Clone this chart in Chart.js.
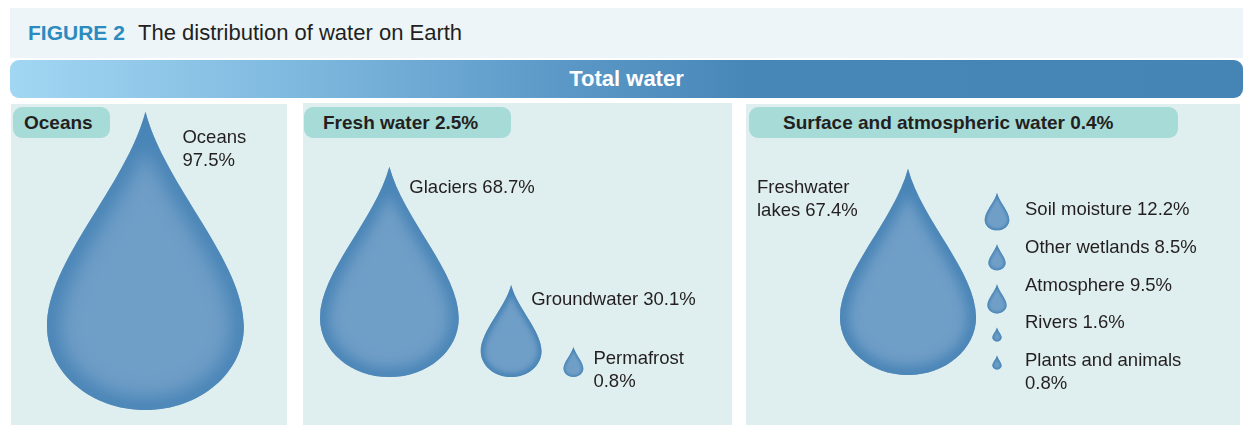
<!DOCTYPE html>
<html>
<head>
<meta charset="utf-8">
<title>The distribution of water on Earth</title>
<script src="https://cdn.jsdelivr.net/npm/chart.js@4.4.0/dist/chart.umd.min.js"></script>
<style>
  body { margin: 0; width: 1250px; height: 436px; background: #fff; position: relative; overflow: hidden;
         font-family: "Liberation Sans", Arial, Helvetica, sans-serif; color: #231f20; }
  .cabecera { position: absolute; left: 10px; top: 8px; width: 1233px; height: 50px; background: #edf5f8; }
  .cabecera span { position: absolute; top: 12px; font-size: 22px; line-height: 26px; }
  .cabecera .fig { left: 18px; font-weight: bold; color: #2b8bbf; font-size: 21px; }
  .cabecera .tit { left: 128px; }
  .total { position: absolute; left: 10px; top: 60px; width: 1233px; height: 38px; border-radius: 9px;
           background: linear-gradient(90deg, #a2d7f3 0%, #7cb6dd 25%, #5b98c7 45%, #4787b7 60%, #4485b5 100%);
           color: #fff; font-weight: bold; font-size: 22px; line-height: 38px; text-align: center; }
  .panel { position: absolute; background: #dfeeee; }
  .pastilla { position: absolute; top: 3px; height: 31px; border-radius: 9px; background: #a7dbd7;
              font-weight: bold; font-size: 19px; line-height: 31px; z-index: 2; box-sizing: border-box; }
  .panel canvas { position: absolute; left: 0; top: 0; }
</style>
</head>
<body>
<div class="cabecera"><span class="fig">FIGURE 2</span><span class="tit">The distribution of water on Earth</span></div>
<div class="total">Total water</div>

<div class="panel" id="p1" style="left:11px; top:104px; width:276px; height:321px;">
  <div class="pastilla" id="t1" style="left:2px; width:97px; padding-left:11px;"></div>
  <canvas id="graficaOceanos"></canvas>
</div>
<div class="panel" id="p2" style="left:303px; top:103px; width:429px; height:322px;">
  <div class="pastilla" id="t2" style="left:1px; top:4px; width:207px; padding-left:19px;"></div>
  <canvas id="graficaDulce"></canvas>
</div>
<div class="panel" id="p3" style="left:746px; top:104px; width:494px; height:321px;">
  <div class="pastilla" id="t3" style="left:3px; width:429px; padding-left:34px;"></div>
  <canvas id="graficaSuperficie"></canvas>
</div>

<script>
// Datos (porcentajes)
const titulosPaneles = ['Oceans', 'Fresh water 2.5%', 'Surface and atmospheric water 0.4%'];

const categoriasOceanos = ['Oceans'];
const valoresOceanos = [97.5];

const categoriasDulce = ['Glaciers', 'Groundwater', 'Permafrost'];
const valoresDulce = [68.7, 30.1, 0.8];

const categoriasSuperficie = ['Freshwater\nlakes', 'Soil moisture', 'Other wetlands', 'Atmosphere', 'Rivers', 'Plants and animals'];
const valoresSuperficie = [67.4, 12.2, 8.5, 9.5, 1.6, 0.8];

// Estilo
const PX_POR_PUNTO = 3.06;   // misma escala vertical en los tres paneles
const PROP_GOTA = 0.66;      // ancho / alto de la gota
const FUENTE_ETIQUETA = '18.5px "Liberation Sans", Arial, sans-serif';
const ALTO_LINEA = 23;

// Dibuja una gota con la punta arriba y la base en (cx, base)
function dibujarGota(ctx, cx, base, h) {
    const rx = h * PROP_GOTA / 2;
    const top = base - h;
    const yAncho = top + 0.72 * h;
    const ry = base - yAncho;
    const k = 0.552;
    ctx.save();
    ctx.beginPath();
    ctx.moveTo(cx, top);
    ctx.bezierCurveTo(cx + 0.2 * rx, top + 0.25 * h, cx + rx, top + 0.5 * h, cx + rx, yAncho);
    ctx.bezierCurveTo(cx + rx, yAncho + k * ry, cx + k * rx, base, cx, base);
    ctx.bezierCurveTo(cx - k * rx, base, cx - rx, yAncho + k * ry, cx - rx, yAncho);
    ctx.bezierCurveTo(cx - rx, top + 0.5 * h, cx - 0.2 * rx, top + 0.25 * h, cx, top);
    ctx.closePath();
    ctx.fillStyle = '#6f9ec7';
    ctx.fill();
    // borde interior más oscuro y difuminado
    ctx.clip();
    ctx.filter = 'blur(' + Math.max(1, rx * 0.09).toFixed(1) + 'px)';
    ctx.lineWidth = Math.max(3, rx * 0.26);
    ctx.strokeStyle = '#4884b6';
    ctx.stroke();
    ctx.restore();
}

function lineasEtiqueta(nombre, valor, valorAparte) {
    const texto = nombre + (valorAparte ? '\n' : ' ') + valor.toFixed(1) + '%';
    return texto.split('\n');
}

function escribir(ctx, lineas, x, y) {
    ctx.save();
    ctx.font = FUENTE_ETIQUETA;
    ctx.fillStyle = '#231f20';
    ctx.textAlign = 'left';
    ctx.textBaseline = 'middle';
    lineas.forEach((l, i) => ctx.fillText(l, x, y + i * ALTO_LINEA));
    ctx.restore();
}

// Plugin que dibuja las gotas usando la escala Y de Chart.js
const pluginGotas = {
    id: 'gotas',
    afterDatasetsDraw(chart, args, opts) {
        const ctx = chart.ctx;
        const area = chart.chartArea;
        const escalaY = chart.scales.y;
        const base = escalaY.getPixelForValue(0);
        const valores = chart.data.datasets[0].data;
        const nombres = chart.data.labels;
        const altoDe = (v, minimo) => base - escalaY.getPixelForValue(Math.max(v, minimo));
        const aparte = opts.valorAparte || [];

        if (opts.modo === 'fila') {
            let x = area.left;
            valores.forEach((v, i) => {
                const h = altoDe(v, opts.minimo);
                const w = h * PROP_GOTA;
                const cx = x + w / 2;
                dibujarGota(ctx, cx, base, h);
                escribir(ctx, lineasEtiqueta(nombres[i], v, aparte.includes(i)), cx + opts.etqDx, base - h + 10 + 0.055 * h);
                x += w + opts.hueco;
            });
        } else {
            // gota grande a la izquierda, resto en columna
            const hG = altoDe(valores[0], 0);
            dibujarGota(ctx, area.left + opts.grandeCx, base, hG);
            escribir(ctx, lineasEtiqueta(nombres[0], valores[0], aparte.includes(0)), area.left + opts.grandeEtqX, base - hG + 19);
            let y = area.top + opts.columnaTop;
            valores.slice(1).forEach((v, k) => {
                const h = altoDe(v, opts.minimo);
                dibujarGota(ctx, area.left + opts.columnaCx, y + h, h);
                y += h + opts.hueco;
                escribir(ctx, lineasEtiqueta(nombres[k + 1], v, aparte.includes(k + 1)),
                    area.left + opts.etqX, area.top + opts.filaTop + k * opts.filaAlto);
            });
        }
    }
};

function crearGrafica(id, categorias, valores, padIzq, padInf, opcionesGotas) {
    const lienzo = document.getElementById(id);
    const panel = lienzo.parentNode;
    const altoArea = panel.clientHeight - padInf;
    return new Chart(lienzo, {
        type: 'bar',
        data: {
            labels: categorias,
            datasets: [{ data: valores, backgroundColor: 'rgba(0,0,0,0)', borderWidth: 0 }]
        },
        options: {
            responsive: true,
            maintainAspectRatio: false,
            animation: false,
            layout: { padding: { left: padIzq, right: 0, top: 0, bottom: padInf } },
            scales: {
                x: { display: false },
                y: { display: false, min: 0, max: altoArea / PX_POR_PUNTO }
            },
            plugins: {
                legend: { display: false },
                tooltip: { enabled: false },
                gotas: opcionesGotas
            }
        },
        plugins: [pluginGotas]
    });
}

document.addEventListener('DOMContentLoaded', () => {
    ['t1', 't2', 't3'].forEach((id, i) => document.getElementById(id).textContent = titulosPaneles[i]);

    crearGrafica('graficaOceanos', categoriasOceanos, valoresOceanos, 36, 15,
        { modo: 'fila', minimo: 0, hueco: 0, etqDx: 37, valorAparte: [0] });

    crearGrafica('graficaDulce', categoriasDulce, valoresDulce, 17, 48,
        { modo: 'fila', minimo: 9.8, hueco: 22, etqDx: 20, valorAparte: [2] });

    crearGrafica('graficaSuperficie', categoriasSuperficie, valoresSuperficie, 0, 50,
        { modo: 'lista', minimo: 4.6, hueco: 14, grandeCx: 162, grandeEtqX: 11,
          columnaCx: 251, columnaTop: 89, etqX: 279, filaTop: 106, filaAlto: 37.8, valorAparte: [5] });
});
</script>
</body>
</html>
